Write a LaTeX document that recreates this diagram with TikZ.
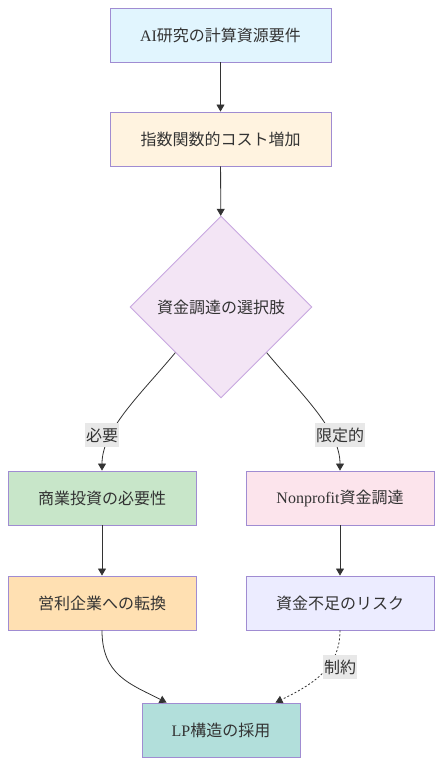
\documentclass[tikz,border=0pt]{standalone}
\usepackage{fontspec}
\setmainfont{Liberation Serif}
\newfontfamily\jp{Noto Sans CJK JP}
\usetikzlibrary{shapes.geometric,arrows.meta}
\definecolor{boxline}{HTML}{A08CD2}
\definecolor{diamline}{HTML}{C8A8E0}
\definecolor{edgeline}{HTML}{333333}
\definecolor{lblfill}{HTML}{E8E8E8}
\definecolor{reqfill}{HTML}{E1F5FE}
\definecolor{costfill}{HTML}{FFF3E0}
\definecolor{fundfill}{HTML}{F3E5F5}
\definecolor{investfill}{HTML}{C8E6C9}
\definecolor{npfill}{HTML}{FCE4EC}
\definecolor{fpfill}{HTML}{FFE0B2}
\definecolor{riskfill}{HTML}{ECECFF}
\definecolor{lpfill}{HTML}{B2DFDB}
\tikzset{
  box/.style={draw=boxline,line width=0.9pt,minimum width=221pt,minimum height=54pt,
    inner sep=0pt,font=\jp\fontsize{16}{19}\selectfont,text=black!80},
  sidebox/.style={box,minimum width=188pt},
  edge/.style={draw=edgeline,line width=0.8pt,-{Triangle[length=7pt,width=8pt]}},
  lbl/.style={fill=lblfill,inner xsep=1pt,inner ysep=0pt,minimum height=24pt,
    font=\jp\fontsize{16}{19}\selectfont,text=black!80},
}
\begin{document}
\begin{tikzpicture}[x=1pt,y=-1pt]
\useasboundingbox[fill=white] (0,0) rectangle (442,766);
% Drawing boxes
% Row 1: requirements
\node[box,fill=reqfill] (req) at (220.5,35) {{\rmfamily AI}研究の計算資源要件};
% Row 2: cost
\node[box,fill=costfill] (cost) at (220.5,139) {指数関数的コスト増加};
% Row 3: decision
\node[diamond,aspect=1,draw=diamline,line width=0.9pt,fill=fundfill,
  minimum width=182pt,minimum height=182pt,inner sep=0pt,
  font=\jp\fontsize{16}{19}\selectfont,text=black!80] (fund) at (221,307) {資金調達の選択肢};
% Row 4: two branches
\node[sidebox,fill=investfill] (invest) at (102,498) {商業投資の必要性};
\node[sidebox,fill=npfill] (nonprofit) at (340,498) {{\rmfamily Nonprofit}資金調達};
% Row 5: consequences
\node[sidebox,fill=fpfill] (forprofit) at (102,603) {営利企業への転換};
\node[sidebox,fill=riskfill] (risk) at (340,603) {資金不足のリスク};
% Row 6: result
\node[box,minimum width=158pt,fill=lpfill] (lp) at (221,730) {{\rmfamily LP}構造の採用};
% Done with boxes; drawing edges
\draw[edge] (req) -- (cost);
\draw[edge] (cost) -- (fund);
\draw[edge] (fund.south west) .. controls (140,395) and (102,430) .. (invest.north);
\draw[edge] (fund.south east) .. controls (302,395) and (340,430) .. (nonprofit.north);
\draw[edge] (invest) -- (forprofit);
\draw[edge] (nonprofit) -- (risk);
\draw[edge] (forprofit.south) .. controls (102,675) and (130,684) .. ([xshift=25pt]lp.north west);
\draw[edge,dash pattern=on 2pt off 2pt] (risk.south) .. controls (340,665) and (318,682) .. ([xshift=-25pt]lp.north east);
% Done with edges; drawing edge labels
\node[lbl] (need) at (102,435) {必要};
\node[lbl] (limited) at (340,435) {限定的};
\node[lbl] (constraint) at (340,667) {制約};
% Done with labels
\end{tikzpicture}
\end{document}
